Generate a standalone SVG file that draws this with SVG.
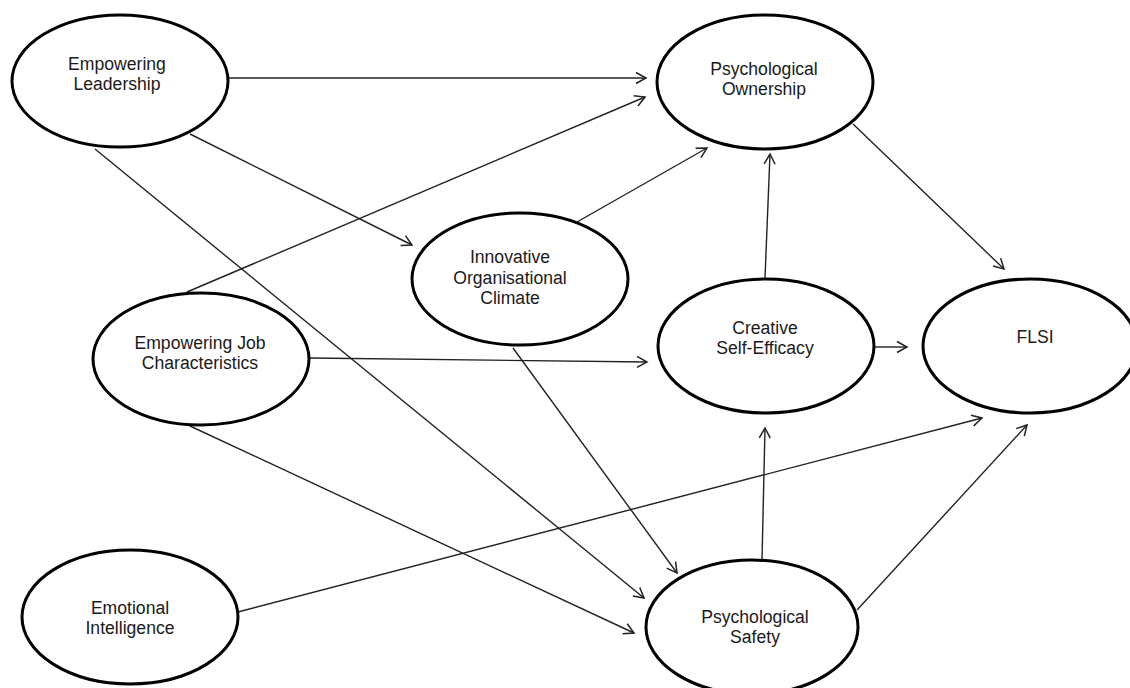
<svg xmlns="http://www.w3.org/2000/svg" width="1130" height="688" viewBox="0 0 1130 688">
<style>
.node ellipse{fill:#fff;stroke:#000;stroke-width:3}
.node text{font-family:"Liberation Sans",Arial,sans-serif;font-size:17.6px;fill:#1a1a1a;text-anchor:middle}
.conn line{stroke:#222;stroke-width:1.4;fill:none}
.arr{marker-end:url(#ah)}
</style>
<defs>
<marker id="ah" markerUnits="userSpaceOnUse" markerWidth="14" markerHeight="14" refX="11" refY="6" orient="auto" viewBox="0 0 14 12">
<path d="M1,0.5 L11,6 L1,11.5" fill="none" stroke="#222" stroke-width="1.5"/>
</marker>
</defs>
<rect width="1130" height="688" fill="#fff"/>
<g class="conn">
<line class="arr" x1="228" y1="78" x2="646" y2="78"/>
<line class="arr" x1="187" y1="292" x2="645" y2="97"/>
<line class="arr" x1="577" y1="222" x2="707" y2="148"/>
<line class="arr" x1="765" y1="278" x2="770" y2="154"/>
<line class="arr" x1="853" y1="124" x2="1004" y2="269"/>
<line class="arr" x1="190" y1="134" x2="412" y2="245"/>
<line class="arr" x1="310" y1="358" x2="647" y2="362"/>
<line class="arr" x1="875" y1="347" x2="907" y2="347"/>
<line class="arr" x1="95" y1="149" x2="644" y2="598"/>
<line class="arr" x1="513" y1="348" x2="677" y2="573"/>
<line class="arr" x1="190" y1="426" x2="634" y2="633"/>
<line class="arr" x1="238" y1="612" x2="982" y2="418"/>
<line class="arr" x1="762" y1="560" x2="765" y2="428"/>
<line class="arr" x1="857" y1="610" x2="1027" y2="425"/>
</g>
<g id="empowering-leadership" class="node">
<ellipse cx="120" cy="81" rx="108" ry="66"/>
<text x="117" y="70">Empowering</text>
<text x="117" y="90">Leadership</text>
</g>
<g id="psychological-ownership" class="node">
<ellipse cx="765" cy="82" rx="108" ry="67"/>
<text x="764" y="75">Psychological</text>
<text x="764" y="95">Ownership</text>
</g>
<g id="innovative-climate" class="node">
<ellipse cx="520" cy="279" rx="108" ry="66"/>
<text x="510" y="263">Innovative</text>
<text x="510" y="284">Organisational</text>
<text x="510" y="304">Climate</text>
</g>
<g id="empowering-job" class="node">
<ellipse cx="201" cy="359" rx="108" ry="66"/>
<text x="200" y="349">Empowering Job</text>
<text x="200" y="369">Characteristics</text>
</g>
<g id="creative-self-efficacy" class="node">
<ellipse cx="766" cy="346" rx="108" ry="67"/>
<text x="765" y="334">Creative</text>
<text x="765" y="354">Self-Efficacy</text>
</g>
<g id="flsi" class="node">
<ellipse cx="1030" cy="346" rx="107" ry="67"/>
<text x="1035" y="343">FLSI</text>
</g>
<g id="emotional-intelligence" class="node">
<ellipse cx="130" cy="617" rx="108" ry="67"/>
<text x="130" y="614">Emotional</text>
<text x="130" y="634">Intelligence</text>
</g>
<g id="psychological-safety" class="node">
<ellipse cx="752" cy="627" rx="106" ry="67"/>
<text x="755" y="623">Psychological</text>
<text x="755" y="643">Safety</text>
</g>
</svg>
